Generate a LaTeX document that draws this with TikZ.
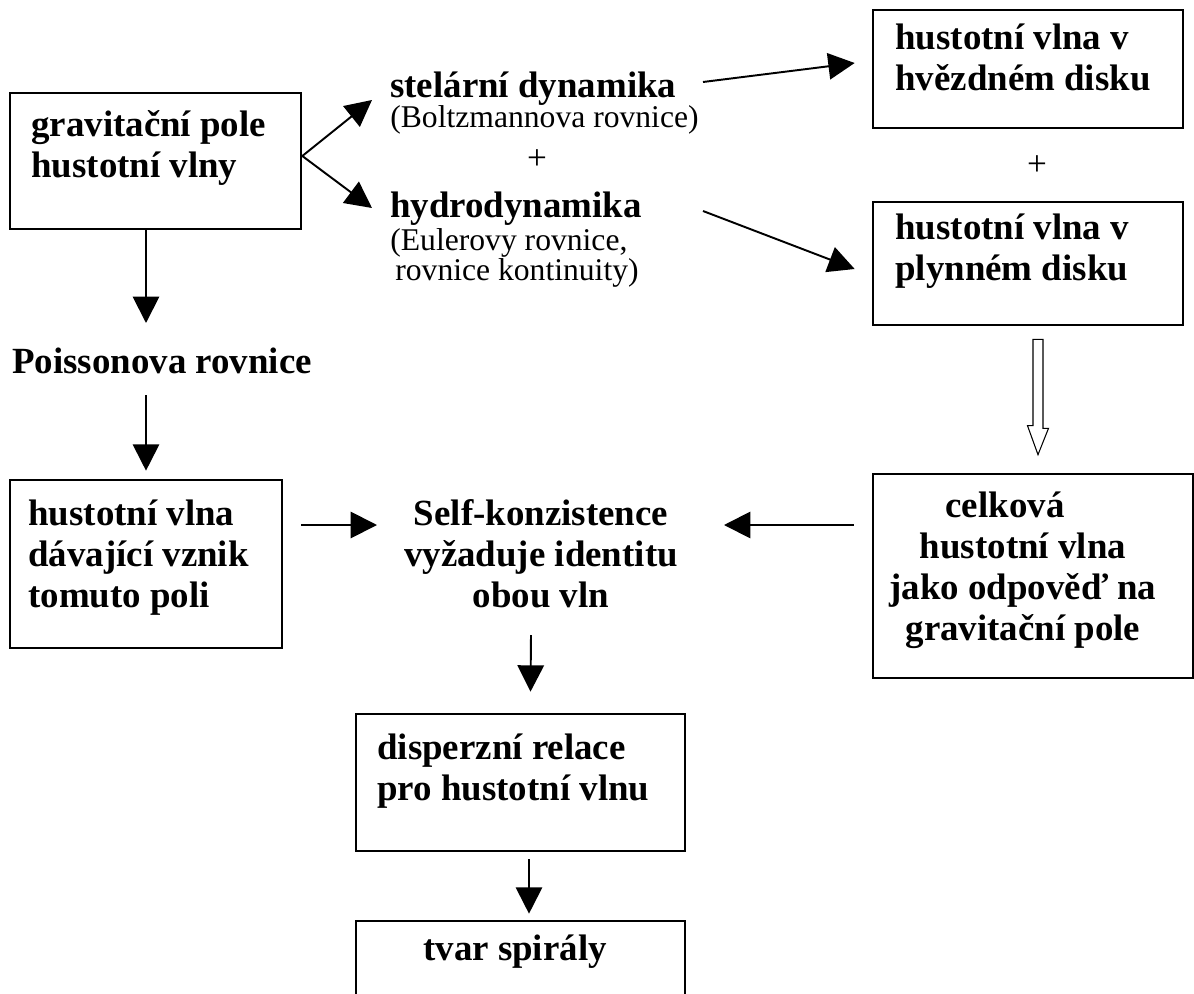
\documentclass[tikz,border=0pt]{standalone}
\usepackage{fontspec}
\setmainfont{Liberation Serif}
\usetikzlibrary{arrows.meta,fit,calc}
\begin{document}
\begin{tikzpicture}[x=0.02cm,y=-0.02cm,
  box/.style={draw,line width=1.5pt,inner sep=0pt},
  arr/.style={line width=1.1pt,-{Triangle[length=15pt,width=15pt]}},
  bt/.style={font=\fontsize{21}{23.3}\selectfont\bfseries,inner sep=0pt},
  nt/.style={font=\fontsize{18}{17}\selectfont,inner sep=0pt},
  hollow/.style={draw,line width=0.6pt,fill=white}
]
\useasboundingbox (0,0) rectangle (1194,994);

% boxes
\node[box,fit={(10,93) (301,229)}] (A) {};
\node[box,fit={(873,10) (1183,128)}] (B) {};
\node[box,fit={(873,202) (1183,325)}] (C) {};
\node[box,fit={(873,474) (1193,678)}] (D) {};
\node[box,fit={(10,480) (282,648)}] (E) {};
\node[box,fit={(356,714) (685,851)}] (F) {};
\node[box,fit={(356,921) (685,1010)}] (G) {};

% texts (multi-line nodes: anchor on last baseline)
\node[bt,anchor=base west,align=left] (tA) at (31,177) {gravitační pole\\hustotní vlny};
\node[bt,anchor=base west] (stel) at (390,97) {stelární dynamika};
\node[nt,anchor=base west] (boltz) at (390,127) {(Boltzmannova rovnice)};
\node[nt,font=\fontsize{20}{20}\selectfont] (plusL) at (537,160) {+};
\node[bt,anchor=base west] (hydro) at (390,217) {hydrodynamika};
\node[nt,anchor=base west,align=left] (euler) at (390,280) {(Eulerovy rovnice,\\\hspace*{0.1cm}rovnice kontinuity)};
\node[bt,anchor=base west,align=left] (tB) at (895,90) {hustotní vlna v\\hvězdném disku};
\node[nt,font=\fontsize{20}{20}\selectfont] (plusR) at (1037,166) {+};
\node[bt,anchor=base west,align=left] (tC) at (895,280) {hustotní vlna v\\plynném disku};
\node[bt,anchor=base,align=center] (tD) at (1023,640) {celková\hspace*{0.72cm}\\hustotní vlna\\jako odpověď na\\gravitační pole};
\node[bt,anchor=base west] (pois) at (12,373) {Poissonova rovnice};
\node[bt,anchor=base west,align=left] (tE) at (28,607) {hustotní vlna\\dávající vznik\\tomuto poli};
\node[bt,anchor=base,align=center] (self) at (541,607) {Self-konzistence\\vyžaduje identitu\\obou vln};
\node[bt,anchor=base west,align=left] (tF) at (377,800) {disperzní relace\\pro hustotní vlnu};
\node[bt,anchor=base] (tG) at (515,960) {tvar spirály};

% connectors
\coordinate (fork) at ($(A.east)+(0,-5)$);
\draw[arr] (fork) -- ($(stel.base west)+(-18,3)$);
\draw[arr] (fork) -- ($(hydro.base west)+(-18,-9)$);
\draw[arr] ($(stel.base west)+(313,-15)$) -- ($(B.west)+(-17,-6)$);
\draw[arr] ($(hydro.base west)+(313,-6)$) -- ($(C.west)+(-17,5.5)$);
\draw[arr] ($(A.south)+(-9.5,0)$) -- ($(pois.base west)+(134,-50)$);
\draw[arr] ($(pois.base west)+(134,22)$) -- ($(E.north)+(0,-8)$);
\draw[arr] ($(E.east)+(18,-39)$) -- ($(self.base)+(-164,-82)$);
\draw[arr] ($(D.west)+(-18,-51)$) -- ($(self.base)+(183,-82)$);
\draw[arr] ($(self.base)+(-10,28)$) -- ($(F.north)+(10,-21)$);
\draw[arr] ($(F.south)+(8.5,7)$) -- ($(G.north)+(8.5,-6)$);

% hollow arrow C -> D
\draw[hollow] ($(C.south)+(5,13)$) -- ++(10,0) -- ++(0,89) -- ++(5.5,0)
  -- ($(D.north)+(5,-18)$) -- ++(-10.5,-29) -- ++(5.5,0) -- cycle;
\end{tikzpicture}
\end{document}
